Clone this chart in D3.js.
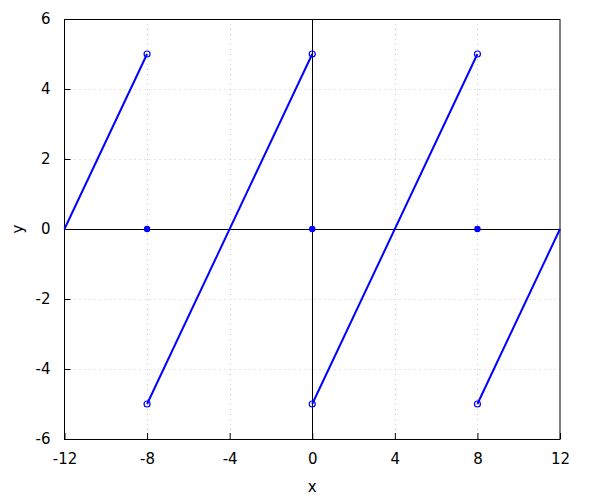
<!DOCTYPE html>
<html><head><meta charset="utf-8">
<script src="https://cdn.jsdelivr.net/npm/d3@7"></script>
<style>body{margin:0;background:#fff}text{font-family:"DejaVu Sans",sans-serif}</style>
</head><body><svg id="c" width="600" height="500"></svg>
<script>
const xTicks = [-12,-8,-4,0,4,8,12];
const yTicks = [-6,-4,-2,0,2,4,6];
const segments = [
  [[-12,0],[-8,5]],
  [[-8,-5],[0,5]],
  [[0,-5],[8,5]],
  [[8,-5],[12,0]]
];
const openPts = [[-8,5],[-8,-5],[0,5],[0,-5],[8,5],[8,-5]];
const filledPts = [[-8,0],[0,0],[8,0]];

const svg = d3.select("#c");
const L=64.5,R=560,T=19,B=439;
const x = d3.scaleLinear().domain([-12,12]).range([L,R]);
const y = d3.scaleLinear().domain([-6,6]).range([B,T]);

const g = svg.append("g");
// grid
g.selectAll(".gx").data(xTicks.slice(1,-1)).enter().append("line")
 .attr("x1",d=>Math.round(x(d))+0.5).attr("x2",d=>Math.round(x(d))+0.5).attr("y1",T).attr("y2",B)
 .attr("stroke","#c8c8c8").attr("stroke-width",1).attr("stroke-dasharray","1,4");
g.selectAll(".gy").data(yTicks.slice(1,-1)).enter().append("line")
 .attr("y1",d=>Math.round(y(d))+0.5).attr("y2",d=>Math.round(y(d))+0.5).attr("x1",L).attr("x2",R)
 .attr("stroke","#c8c8c8").attr("stroke-width",1).attr("stroke-dasharray","1,4");
// zero axes
g.append("line").attr("x1",L).attr("x2",R).attr("y1",Math.round(y(0))+0.5).attr("y2",Math.round(y(0))+0.5).attr("stroke","#000");
g.append("line").attr("y1",T).attr("y2",B).attr("x1",Math.round(x(0))+0.5).attr("x2",Math.round(x(0))+0.5).attr("stroke","#000");

const fmt = d => String(d);
// axes with inward ticks
const xa = svg.append("g").attr("transform",`translate(0,${B})`)
  .call(d3.axisBottom(x).tickValues(xTicks).tickFormat(fmt).tickSizeInner(-6).tickSizeOuter(0).tickPadding(14));
const ya = svg.append("g").attr("transform",`translate(${L},0)`)
  .call(d3.axisLeft(y).tickValues(yTicks).tickFormat(fmt).tickSizeInner(-6).tickSizeOuter(0).tickPadding(14));
[xa,ya].forEach(a=>{a.select(".domain").remove();a.selectAll("text").attr("font-size",15).attr("fill","#000").attr("font-family","DejaVu Sans, sans-serif");a.selectAll("line").attr("stroke","#000");});
// border
svg.append("rect").attr("x",L).attr("y",T+0.5).attr("width",R-L).attr("height",B-T)
 .attr("fill","none").attr("stroke","#000").attr("stroke-width",1);

// data
const line = d3.line().x(d=>x(d[0])).y(d=>y(d[1]));
svg.selectAll(".seg").data(segments).enter().append("path").attr("d",line)
 .attr("fill","none").attr("stroke","#0000ff").attr("stroke-width",2);
svg.selectAll(".op").data(openPts).enter().append("circle")
 .attr("cx",d=>x(d[0])).attr("cy",d=>y(d[1])).attr("r",3)
 .attr("fill","none").attr("stroke","#0000ff").attr("stroke-width",1.2);
svg.selectAll(".fp").data(filledPts).enter().append("circle")
 .attr("cx",d=>x(d[0])).attr("cy",d=>y(d[1])).attr("r",3.2)
 .attr("fill","#0000ff");

svg.append("text").attr("x",(L+R)/2).attr("y",492).attr("text-anchor","middle").attr("font-size",15).text("x");
svg.append("text").attr("transform",`translate(23,${(T+B)/2}) rotate(-90)`).attr("text-anchor","middle").attr("font-size",15).text("y");
</script></body></html>
